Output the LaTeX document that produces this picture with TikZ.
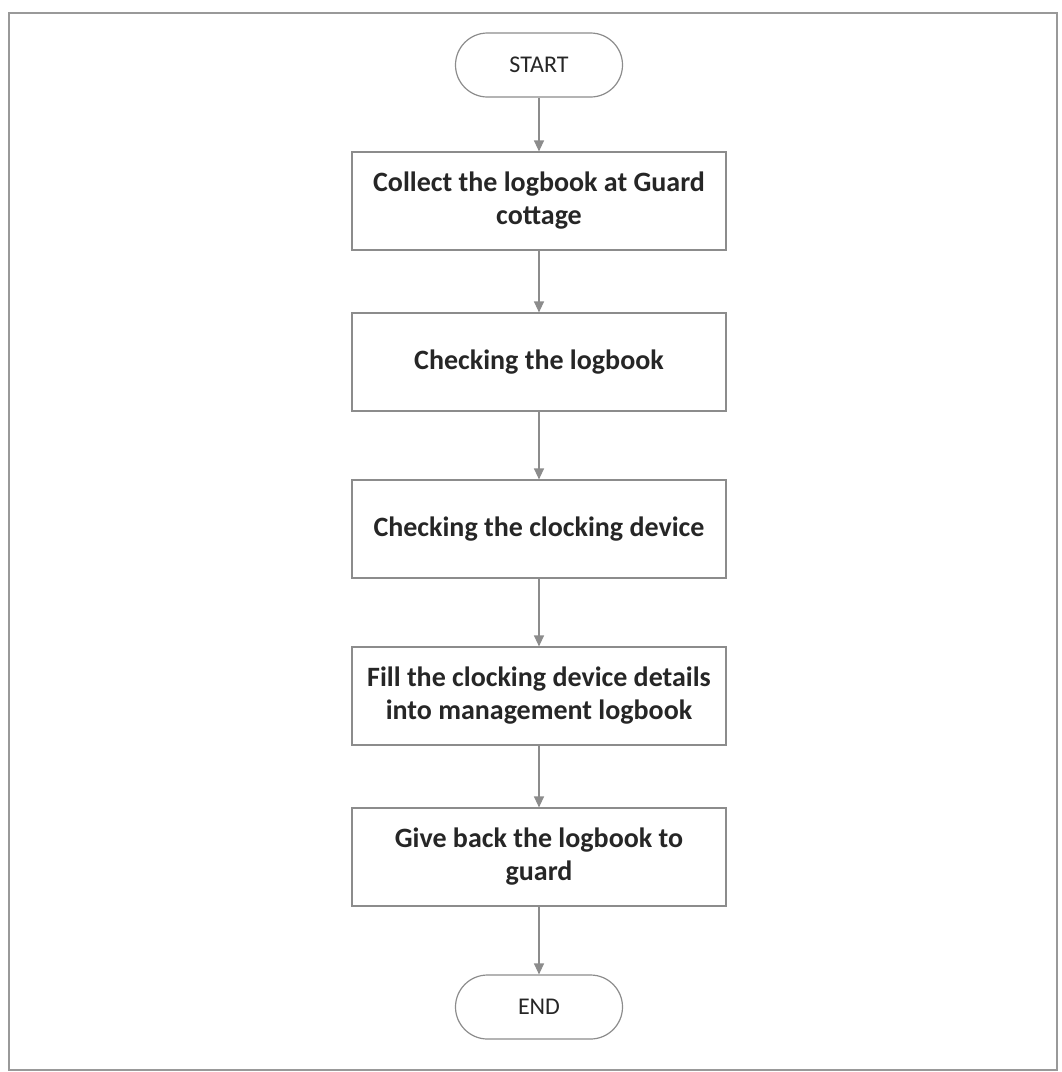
\documentclass[tikz,border=0pt]{standalone}
\usepackage{fontspec}
\setmainfont{Carlito}
\usetikzlibrary{arrows.meta}
\begin{document}
\begin{tikzpicture}[x=1pt,y=-1pt,
  procbox/.style={draw=black!45, line width=1.2pt, minimum width=374pt, minimum height=98pt, align=center, font=\fontsize{28}{33}\selectfont\bfseries, text=black!85, inner sep=0pt},
  term/.style={draw=black!45, line width=1.2pt, minimum width=167pt, minimum height=64pt, rounded corners=32pt, font=\fontsize{24}{28}\selectfont, text=black!85},
  flow/.style={draw=black!45, line width=1.3pt, -{Triangle[length=11pt,width=10pt]}}]
\useasboundingbox (0,0) rectangle (1062,1072);
\draw[black!40, line width=1.2pt] (9,13) rectangle (1057,1070);
\node[term] (start) at (539,65) {START};
\node[procbox] (b1) at (539,201) {Collect the logbook at Guard\\cottage};
\node[procbox] (b2) at (539,362) {Checking the logbook};
\node[procbox] (b3) at (539,529) {Checking the clocking device};
\node[procbox] (b4) at (539,696) {Fill the clocking device details\\into management logbook};
\node[procbox] (b5) at (539,857) {Give back the logbook to\\guard};
\node[term] (end) at (539,1007) {END};
\draw[flow] (start) -- (b1);
\draw[flow] (b1) -- (b2);
\draw[flow] (b2) -- (b3);
\draw[flow] (b3) -- (b4);
\draw[flow] (b4) -- (b5);
\draw[flow] (b5) -- (end);
\end{tikzpicture}
\end{document}
